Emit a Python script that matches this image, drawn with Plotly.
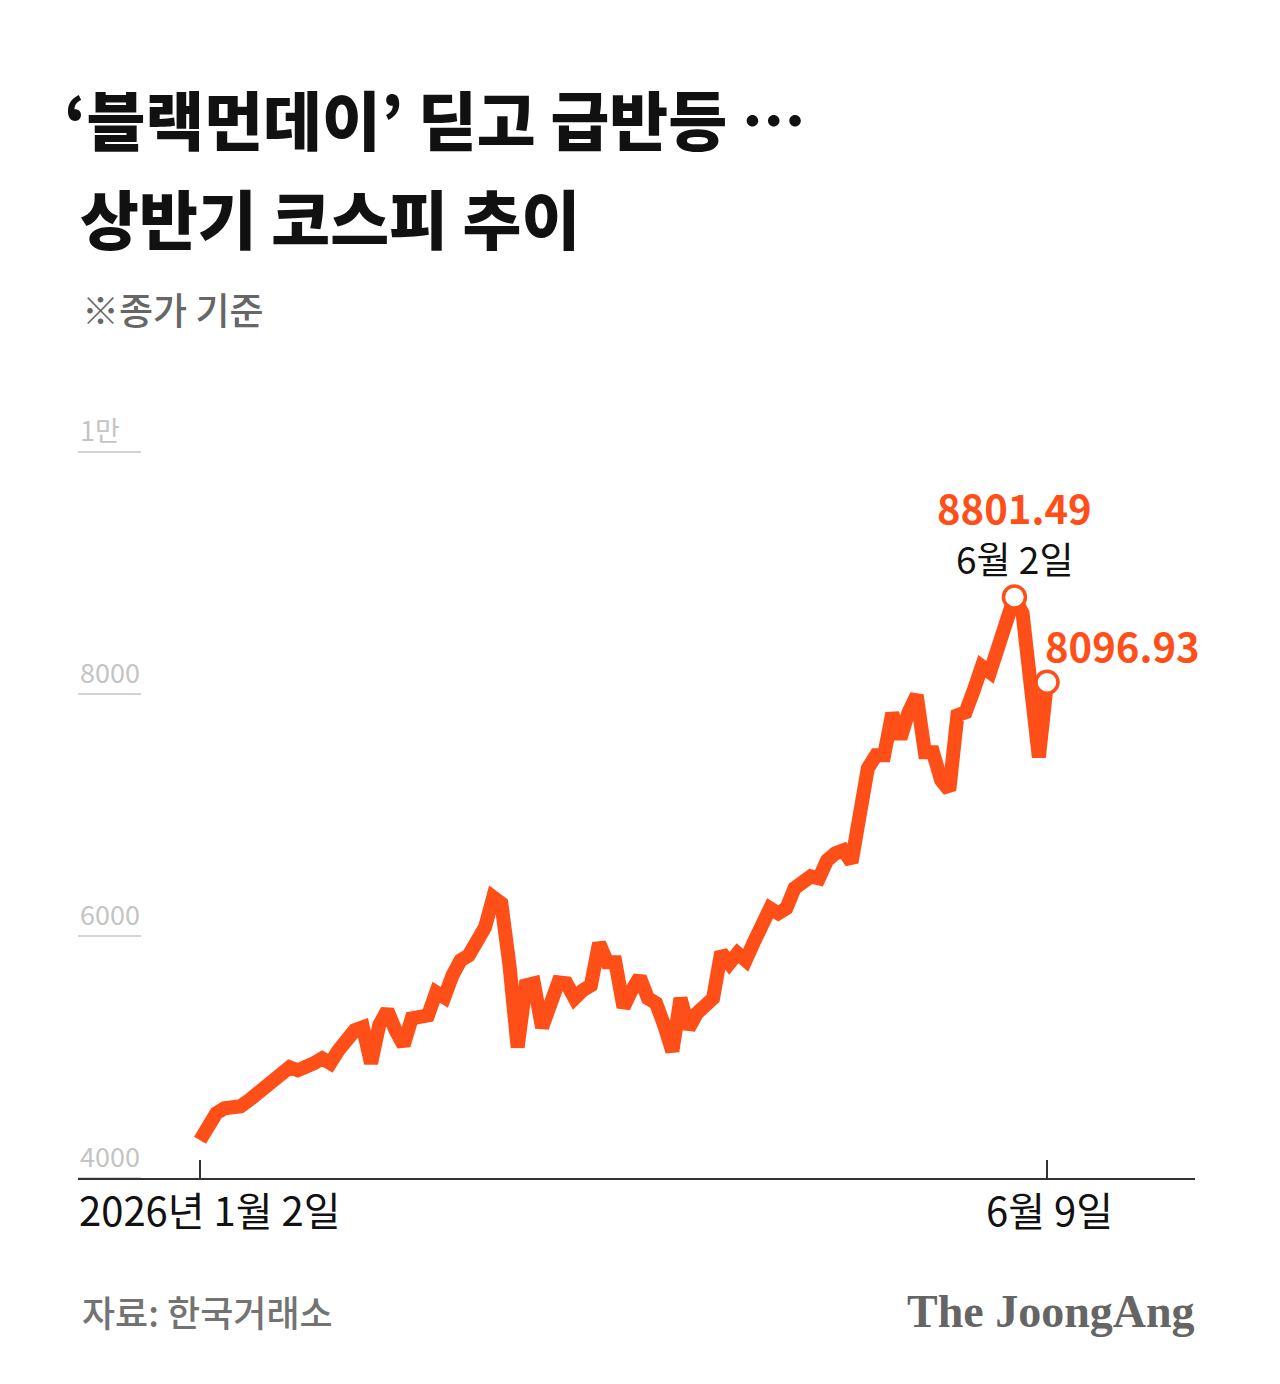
import plotly.graph_objects as go

# ---------------- data ----------------
start_label = "2026년 1월 2일"
end_label = "6월 9일"
kospi = [
    4312, 4436, 4535, 4576, 4584, 4593, 4642, 4700, 4741, 4807,
    4849, 4915, 4890, 4907, 4948, 4989, 4948, 5055, 5154, 5221,
    5245, 4948, 5262, 5386, 5221, 5097, 5320, 5320, 5345, 5535,
    5493, 5675, 5799, 5840, 5948, 6072, 6320, 6270, 5758, 5080,
    5592, 5609, 5245, 5468, 5617, 5609, 5485, 5551, 5592, 5940,
    5783, 5783, 5411, 5551, 5659, 5485, 5444, 5262, 5047, 5485,
    5237, 5361, 5427, 5485, 5865, 5774, 5857, 5799, 5948, 6088,
    6229, 6187, 6229, 6394, 6435, 6493, 6477, 6625, 6683, 6708,
    6609, 6997, 7386, 7493, 7493, 7840, 7634, 7849, 7989, 7518,
    7518, 7287, 7204, 7824, 7849, 8030, 8229, 8179, 8400, 8650,
    8801.49, 8667, 8072, 7477, 8096.93,
]
x_idx = list(range(len(kospi)))
peak_idx = 100
peak_date_label = "6월 2일"
ytick_vals = [4000, 6000, 8000, 10000]
ytick_text = ["4000", "6000", "8000", "1만"]

ORANGE = "#FF4F19"
FONT = "Noto Sans CJK KR, Noto Sans, sans-serif"

# ---------------- layout geometry ----------------
W, H = 1280, 1384
L, R, T, B = 78, 85, 400, 206
PW, PH = W - L - R, H - T - B
PX_PER_IDX = 847 / 104
x_range = [-(200 - L) / PX_PER_IDX, 104 + (1195 - 1047) / PX_PER_IDX]
y_range = [4000, 4000 + PH / 0.121]


def px(xp):
    return (xp - L) / PW


def py(yp):
    return (H - B - yp) / PH


fig = go.Figure()

fig.add_trace(go.Scatter(
    x=x_idx, y=kospi, mode="lines",
    line=dict(color=ORANGE, width=14, shape="linear"),
    hoverinfo="skip", showlegend=False,
))

fig.add_trace(go.Scatter(
    x=[peak_idx, x_idx[-1]], y=[kospi[peak_idx], kospi[-1]], mode="markers",
    marker=dict(size=22, color="white", line=dict(color=ORANGE, width=3.5)),
    hoverinfo="skip", showlegend=False, cliponaxis=False,
))

shapes = []
annotations = []
for v, t in zip(ytick_vals, ytick_text):
    shapes.append(dict(type="line", xref="paper", yref="y",
                       x0=0, x1=px(141), y0=v, y1=v,
                       line=dict(color="#d4d4d4", width=2), layer="below"))
    annotations.append(dict(xref="paper", yref="y", x=0, y=v, text=t,
                            xanchor="left", yanchor="bottom", yshift=1,
                            showarrow=False,
                            font=dict(family=FONT, size=27, color="#c4c4c4")))

# x tick labels (as text below the axis)
annotations += [
    dict(xref="paper", yref="paper", x=0, y=py(1209), text=start_label,
         xanchor="left", yanchor="middle", xshift=-1, showarrow=False,
         font=dict(family=FONT, size=40, color="#111111")),
    dict(x=x_idx[-1], yref="paper", y=py(1209), text=end_label,
         xanchor="center", yanchor="middle", xshift=2, showarrow=False,
         font=dict(family=FONT, size=40, color="#111111")),
]

# titles
annotations += [
    dict(xref="paper", yref="paper", x=px(62), y=py(117), text="‘블랙먼데이’ 딛고 급반등 …",
         xanchor="left", yanchor="middle", showarrow=False,
         font=dict(family=FONT, size=64, color="#111111", weight=900)),
    dict(xref="paper", yref="paper", x=px(78), y=py(216), text="상반기 코스피 추이",
         xanchor="left", yanchor="middle", showarrow=False,
         font=dict(family=FONT, size=64, color="#111111", weight=900)),
    dict(xref="paper", yref="paper", x=px(80), y=py(309), text="※종가 기준",
         xanchor="left", yanchor="middle", showarrow=False,
         font=dict(family=FONT, size=37, color="#666666", weight=500)),
    dict(xref="paper", yref="paper", x=px(80), y=py(1311), text="자료: 한국거래소",
         xanchor="left", yanchor="middle", showarrow=False,
         font=dict(family=FONT, size=36, color="#737373", weight=500)),
    dict(xref="paper", yref="paper", x=px(1197), y=py(1311), text="The JoongAng",
         xanchor="right", yanchor="middle", showarrow=False,
         font=dict(family="Liberation Serif, DejaVu Serif, serif", size=46,
                   color="#656565", weight="bold")),
]

# value annotations
annotations += [
    dict(x=peak_idx, y=kospi[peak_idx], text=f"{kospi[peak_idx]:.2f}",
         xanchor="center", yanchor="middle", yshift=90, showarrow=False,
         font=dict(family=FONT, size=40, color=ORANGE, weight="bold")),
    dict(x=peak_idx, y=kospi[peak_idx], text=peak_date_label,
         xanchor="center", yanchor="middle", yshift=39, showarrow=False,
         font=dict(family=FONT, size=37, color="#111111")),
    dict(x=x_idx[-1], y=kospi[-1], text=f"{kospi[-1]:.2f}",
         xanchor="left", yanchor="middle", xshift=-4, yshift=37, showarrow=False,
         font=dict(family=FONT, size=40, color=ORANGE, weight="bold")),
]

fig.update_layout(
    width=W, height=H,
    margin=dict(l=L, r=R, t=T, b=B, pad=0),
    paper_bgcolor="white", plot_bgcolor="white",
    shapes=shapes, annotations=annotations,
    xaxis=dict(range=x_range, showgrid=False, zeroline=False,
               showline=True, linecolor="#333333", linewidth=1.5,
               tickmode="array", tickvals=[0, x_idx[-1]],
               showticklabels=False,
               ticks="inside", ticklen=18, tickwidth=1.5, tickcolor="#333333"),
    yaxis=dict(range=y_range, showgrid=False, zeroline=False,
               showticklabels=False, showline=False),
    font=dict(family=FONT),
)

fig.write_html("out.html")
